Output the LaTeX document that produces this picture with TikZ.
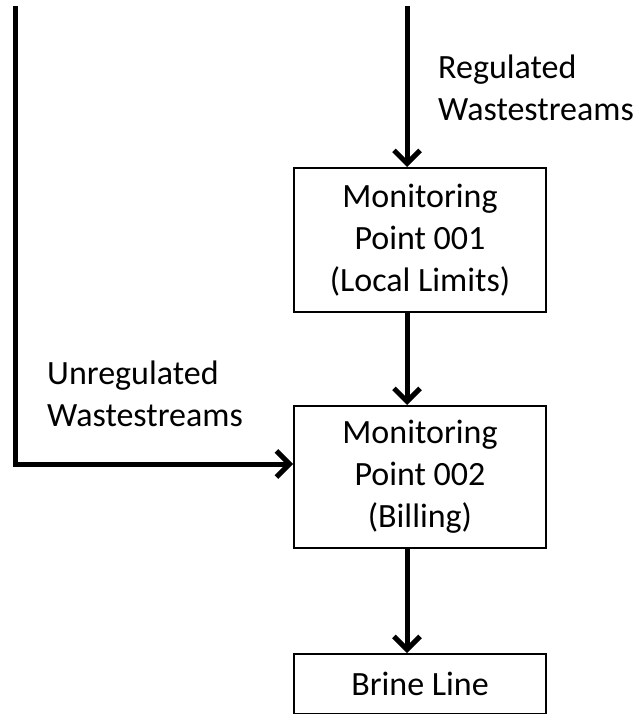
\documentclass[tikz,border=0pt]{standalone}
\usepackage{fontspec}
\setmainfont{Carlito}
\usetikzlibrary{arrows.meta}
\begin{document}
\begin{tikzpicture}[x=1pt,y=-1pt,
  every node/.style={font=\fontsize{34}{42}\selectfont},
  stepbox/.style={draw,line width=2pt,minimum width=252pt,align=center,inner sep=0pt},
  flow/.style={line width=5pt,-{Straight Barb[length=13pt,width=26pt,line width=5pt]}},
  lbl/.style={align=left,anchor=base west,inner sep=0pt}]
\useasboundingbox (0,0) rectangle (640,714);
\node[stepbox,minimum height=144pt] (b1) at (420,240) {Monitoring\\Point 001\\(Local Limits)};
\node[stepbox,minimum height=142pt] (b2) at (420,477) {Monitoring\\Point 002\\(Billing)};
\node[stepbox,minimum height=60pt] (b3) at (420,684) {Brine Line};
\coordinate (s1) at (407,6);
\coordinate (s2) at (15,6);
\node[lbl] (l1) at (438,121) {Regulated\\Wastestreams};
\node[lbl] (l2) at (47,426) {Unregulated\\Wastestreams};
\draw[flow] (s1) -- (b1.north -| s1);
\draw[flow] (b1.south -| s1) -- (b2.north -| s1);
\draw[flow] (b2.south -| s1) -- (b3.north -| s1);
\draw[flow] (s2) |- ([yshift=13pt]b2.west);
\end{tikzpicture}
\end{document}
